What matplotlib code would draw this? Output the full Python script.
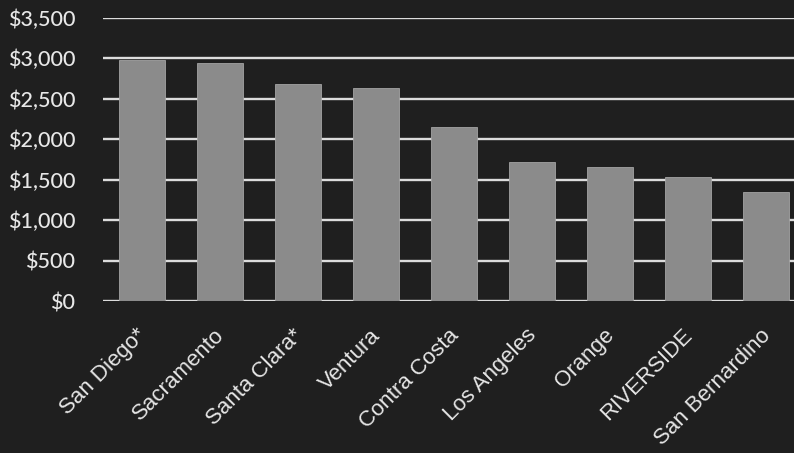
import matplotlib
matplotlib.use("Agg")
import matplotlib.pyplot as plt
import matplotlib.transforms as mtransforms
from matplotlib.ticker import FuncFormatter

counties = ["San Diego*", "Sacramento", "Santa Clara*", "Ventura", "Contra Costa",
            "Los Angeles", "Orange", "RIVERSIDE", "San Bernardino"]
values = [2970, 2940, 2680, 2630, 2150, 1720, 1660, 1530, 1350]
yticks = [0, 500, 1000, 1500, 2000, 2500, 3000, 3500]

bg = "#1f1f1f"
fig = plt.figure(figsize=(7.94, 4.53), dpi=100, facecolor=bg)
ax = fig.add_axes([103/794, 1 - 301/453, 702/794, (301 - 17.5)/453])
ax.set_facecolor(bg)

x = list(range(len(counties)))
ax.set_axisbelow(True)
ax.yaxis.grid(True, color="#dcdcdc", linewidth=1.7)
ax.bar(x, values, width=0.58, color="#8b8b8b", edgecolor="#a3a3a3", linewidth=0.6, zorder=3)

ax.set_xlim(-0.5, len(counties) - 0.5)
ax.set_ylim(0, 3500)
ax.set_yticks(yticks)
ax.yaxis.set_major_formatter(FuncFormatter(lambda v, p: "${:,.0f}".format(v)))
for s in ax.spines.values():
    s.set_visible(False)
ax.tick_params(axis="both", length=0, colors="#e6e6e6")
ax.tick_params(axis="y", pad=20)
for lab in ax.get_yticklabels():
    lab.set_fontfamily("Lato")
    lab.set_fontsize(15.5)
    lab.set_fontweight("medium")
    lab.set_color("#e8e8e8")

ax.set_xticks(x)
ax.set_xticklabels(counties, rotation=45, ha="right", rotation_mode="anchor",
                   fontfamily="Liberation Sans", fontsize=16, color="#e6e6e6")
offset = mtransforms.ScaledTranslation(-6/100, -19/100, fig.dpi_scale_trans)
for lab in ax.get_xticklabels():
    lab.set_transform(lab.get_transform() + offset)

fig.savefig("out.png", dpi=100, facecolor=bg)
